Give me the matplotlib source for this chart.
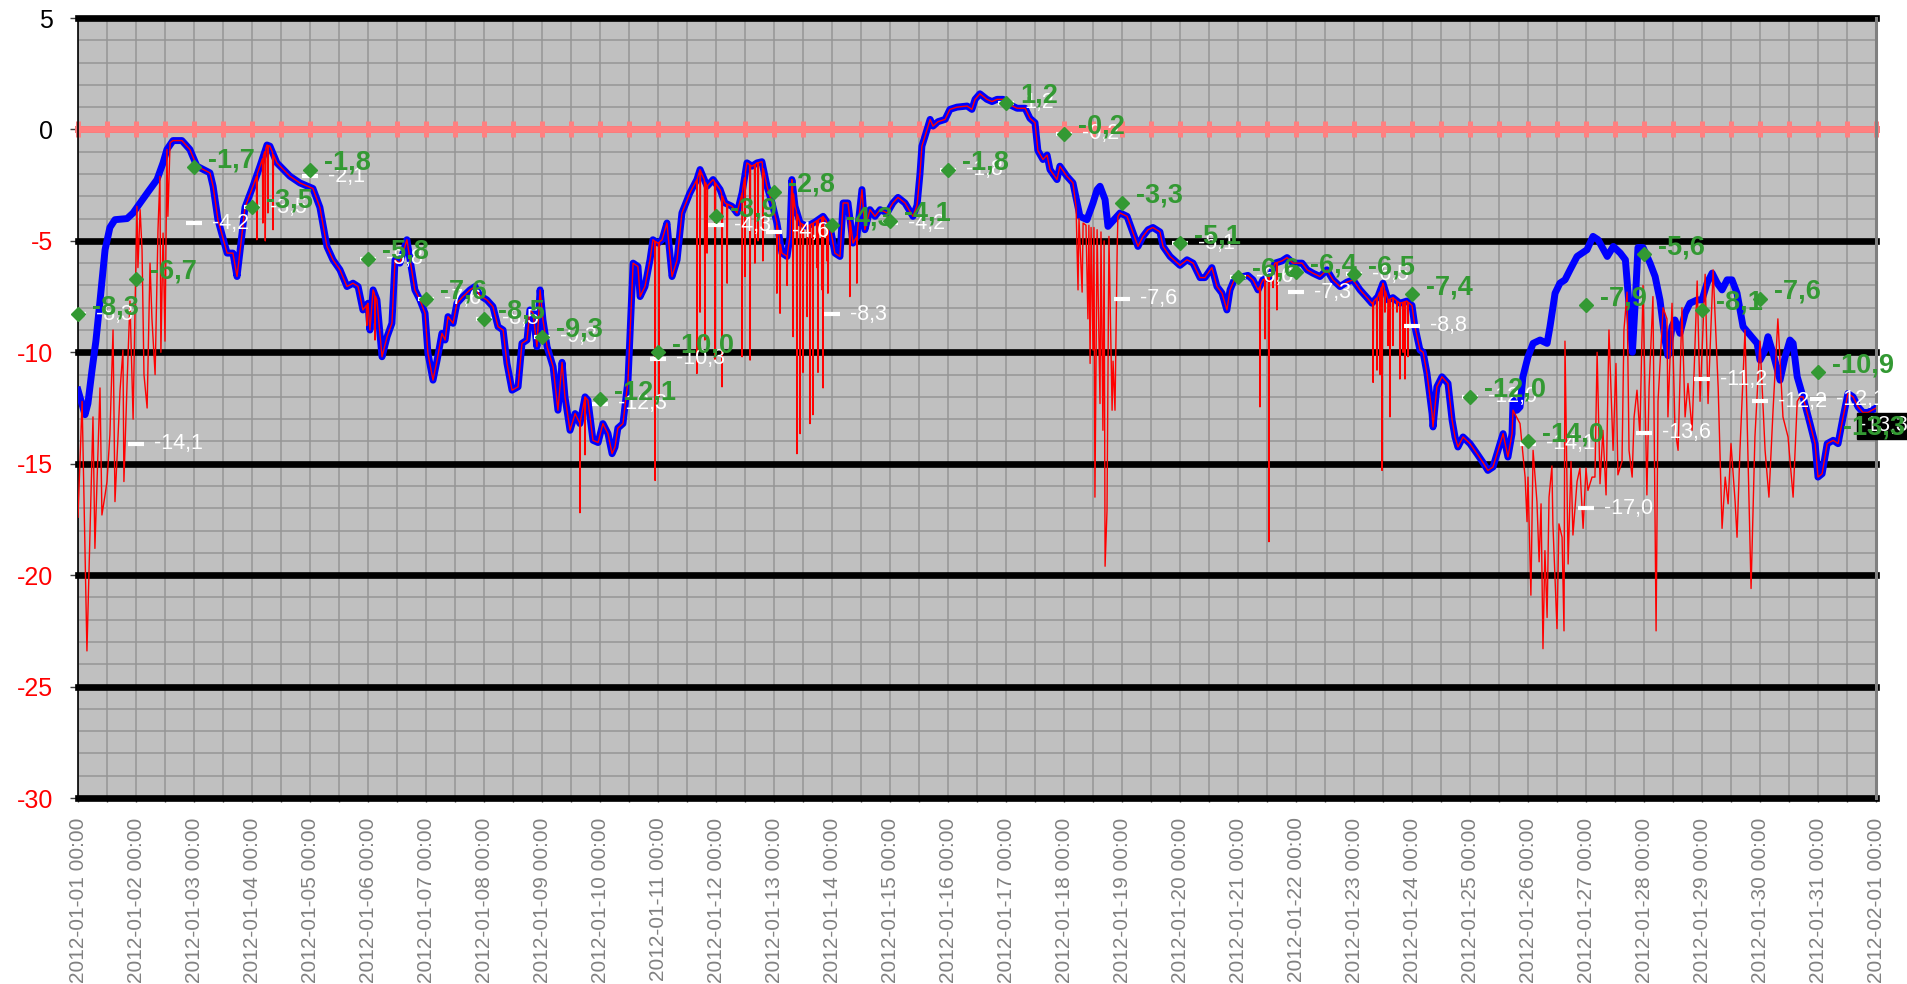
import numpy as np
import pandas as pd
import matplotlib
matplotlib.use('Agg')
import matplotlib.pyplot as plt
import matplotlib.dates as mdates
from matplotlib.ticker import MultipleLocator

plt.rcParams['font.family'] = ['Liberation Sans', 'DejaVu Sans']

START = pd.Timestamp('2012-01-01 00:00')
END = pd.Timestamp('2012-02-01 00:00')

# ---------------- data ----------------
# smoothed series (blue): hours since START, value
blue_hours = [0.0, 0.8, 2.9, 4.1, 5.8, 7.4, 9.1, 11.2, 13.2, 15.3, 20.3, 22.8, 25.7, 29.0, 32.7, 35.2,
              36.8, 39.3, 43.0, 46.3, 49.2, 54.6, 55.9, 57.9, 61.7, 64.1, 65.8, 67.0, 69.1, 72.4, 75.3,
              78.2, 79.4, 82.3, 87.7, 91.8, 97.2, 100.1, 103.0, 105.5, 108.4, 111.3, 113.8, 115.9, 117.9,
              120.0, 120.8, 122.1, 123.7, 125.8, 127.9, 129.9, 131.2, 133.2, 136.1, 137.4, 139.4, 141.5,
              143.6, 144.8, 146.9, 148.6, 150.6, 151.9, 153.1, 155.2, 156.8, 159.3, 162.2, 164.3, 166.3,
              169.2, 171.7, 173.8, 175.9, 177.5, 179.6, 182.1, 183.7, 185.8, 187.0, 188.3, 189.9, 191.2,
              192.4, 194.1, 196.6, 198.6, 200.3, 201.5, 203.6, 205.7, 207.7, 209.8, 211.0, 213.1, 215.2,
              217.2, 219.3, 221.0, 222.2, 223.4, 225.5, 227.6, 229.7, 231.7, 232.6, 234.6, 236.7, 237.9,
              240.0, 241.7, 243.7, 245.8, 247.9, 249.9, 253.2, 256.1, 257.4, 260.3, 262.8, 265.7, 267.7,
              270.6, 272.7, 274.8, 276.8, 278.9, 281.0, 283.0, 285.1, 287.2, 289.2, 291.3, 293.4, 294.6,
              295.4, 296.7, 298.8, 301.7, 305.0, 308.3, 311.2, 313.2, 315.3, 316.6, 318.6, 320.7, 322.3,
              324.4, 325.6, 327.7, 329.8, 331.9, 334.8, 337.2, 339.3, 342.2, 345.5, 347.2, 348.4, 349.2,
              350.5, 352.6, 353.8, 355.9, 358.8, 360.8, 363.7, 367.9, 369.9, 371.2, 373.2, 376.1, 378.2,
              380.3, 382.8, 385.7, 388.6, 391.9, 393.9, 396.0, 397.2, 399.3, 401.0, 402.2, 405.1, 406.3,
              409.2, 411.7, 414.6, 417.5, 420.0, 421.7, 422.9, 425.0, 426.2, 429.1, 431.2, 434.1, 436.6,
              438.6, 440.7, 442.8, 444.8, 447.7, 449.0, 451.9, 456.0, 458.9, 461.4, 464.3, 466.3, 469.2,
              471.3, 473.4, 475.4, 476.7, 478.8, 482.1, 484.1, 486.2, 488.3, 490.3, 493.2, 495.3, 498.2,
              500.3, 502.8, 506.5, 508.6, 511.0, 513.9, 516.8, 519.3, 522.2, 525.1, 527.6, 530.5, 533.4,
              535.4, 537.9, 540.0, 542.1, 544.1, 547.0, 549.9, 552.0, 553.2, 555.3, 556.6, 558.2, 560.3,
              560.7, 562.3, 564.4, 566.9, 568.6, 569.8, 571.0, 573.1, 576.0, 578.9, 581.4, 583.4, 585.5,
              587.6, 589.7, 591.7, 593.4, 593.8, 595.4, 596.7, 597.9, 600.0, 602.1, 605.0, 607.9, 609.1,
              611.2, 613.2, 615.3, 617.4, 620.3, 624.4, 626.9, 629.0, 632.8, 635.3, 638.2, 640.3, 641.9,
              643.2, 644.5, 645.5, 647.6, 650.5, 652.6, 654.6, 656.7, 657.9, 659.6, 660.8, 662.9, 665.0,
              667.0, 670.0, 672.0, 674.1, 676.2, 678.3, 680.3, 682.4, 684.4, 686.5, 689.0, 694.8, 696.0,
              698.1, 699.3, 701.4, 704.3, 706.4, 708.4, 709.7, 711.4, 713.8, 716.7, 718.8, 720.0, 721.7,
              723.8, 726.3, 728.3, 730.4, 732.4, 734.5, 736.6, 738.6, 740.7, 744.0]
blue_values = [-11.7, -12.0, -12.8, -12.3, -10.8, -9.5, -7.7, -5.4, -4.4, -4.05, -4.0, -3.75, -3.3, -2.8, -2.25, -1.5,
               -0.9, -0.5, -0.5, -0.9, -1.65, -1.95, -2.55, -4.05, -5.55, -5.55, -6.6, -5.5, -3.5, -2.55, -1.65,
               -0.7, -0.75, -1.5, -2.1, -2.4, -2.65, -3.5, -5.25, -5.85, -6.3, -7.05, -6.9, -7.05, -8.1,
               -7.8, -9.0, -7.2, -7.65, -10.2, -9.3, -8.7, -5.85, -6.0, -4.95, -5.85, -7.2, -7.65,
               -8.25, -10.05, -11.25, -10.35, -9.15, -9.45, -8.4, -8.7, -7.8, -7.5, -7.2, -7.05, -7.45,
               -7.65, -7.95, -8.85, -9.0, -10.5, -11.7, -11.55, -9.6, -9.45, -8.1, -8.25, -9.75, -7.2,
               -8.55, -9.75, -10.65, -12.6, -10.45, -12.0, -13.5, -12.75, -13.2, -12.0, -12.15, -13.95, -14.05,
               -13.2, -13.65, -14.55, -14.25, -13.4, -13.2, -11.25, -6.0, -6.15, -7.5, -7.05, -5.85, -4.95,
               -5.1, -4.95, -4.2, -6.6, -5.85, -3.75, -2.85, -2.25, -1.8, -2.55, -2.25, -2.7, -3.3,
               -3.45, -3.75, -2.85, -1.5, -1.65, -1.5, -1.45, -2.55, -3.3, -4.2, -5.55, -5.7, -4.8,
               -2.25, -3.45, -4.2, -4.35, -4.15, -3.9, -4.35, -5.55, -5.7, -3.3, -3.3, -5.1, -4.8,
               -2.7, -4.5, -3.6, -3.9, -3.6, -3.75, -3.3, -3.05, -3.3, -3.9, -3.4, -2.0, -0.75,
               -0.3, 0.45, 0.15, 0.35, 0.45, 0.9, 1.0, 1.05, 0.9, 1.35, 1.6, 1.35, 1.25,
               1.35, 1.35, 1.1, 0.95, 0.95, 0.5, 0.3, -0.95, -1.35, -1.15, -1.8, -2.25, -1.65,
               -2.1, -2.4, -3.9, -4.05, -3.3, -2.7, -2.55, -3.15, -4.35, -4.0, -3.75, -3.9, -4.65,
               -5.25, -4.8, -4.5, -4.4, -4.6, -5.25, -5.7, -6.1, -5.85, -6.0, -6.65, -6.65, -6.2,
               -7.05, -7.35, -8.1, -7.2, -6.65, -6.6, -6.55, -6.75, -7.2, -6.75, -6.6, -6.0, -5.9,
               -5.75, -6.0, -6.0, -6.3, -6.45, -6.6, -6.3, -6.75, -7.05, -6.85, -6.75, -7.2, -7.55,
               -7.8, -7.5, -6.9, -7.65, -7.55, -7.8, -7.7, -7.9, -8.85, -9.9, -10.0, -10.95, -12.75,
               -13.35, -11.55, -11.1, -11.4, -13.05, -13.8, -14.25, -13.8, -14.1, -14.55, -14.95, -15.3, -15.15,
               -14.4, -13.65, -14.7, -13.65, -12.15, -12.6, -12.45, -11.1, -10.2, -9.6, -9.45, -9.6, -8.85,
               -7.35, -6.9, -6.75, -6.3, -5.7, -5.4, -4.8, -4.95, -5.7, -5.25, -5.55, -5.85, -8.0,
               -10.0, -7.5, -5.3, -5.3, -6.0, -6.6, -7.65, -9.45, -10.15, -8.85, -8.55, -9.15, -8.25,
               -7.8, -7.65, -7.65, -6.9, -6.45, -6.9, -7.2, -6.75, -6.75, -7.35, -8.85, -9.6, -10.35,
               -9.9, -9.3, -10.05, -11.25, -10.2, -9.45, -9.6, -11.1, -12.0, -13.2, -14.1, -15.6, -15.45,
               -14.1, -13.95, -14.1, -12.9, -11.85, -12.0, -12.45, -12.7, -12.7, -12.5]

# raw series (red): noisy stretches where it leaves the blue curve
red_seg1_hours = [0.0, 1.7, 3.7, 6.2, 7.0, 9.1, 9.9, 11.2, 12.0, 13.2, 14.5, 15.3, 16.6, 17.4, 18.6, 19.0,
                  20.3, 21.5, 22.8, 23.6, 24.4, 24.8, 25.7, 26.5, 27.3, 28.6, 29.8, 30.6, 31.9, 33.1, 33.9,
                  34.3, 35.2, 36.0, 36.8, 37.2, 38.1]
red_seg1_values = [-17.4, -12.2, -23.4, -12.9, -18.8, -11.6, -17.3, -16.4, -15.8, -13.7, -9.0, -16.7, -13.7,
                   -11.7, -9.9, -15.8, -11.4, -7.7, -13.0, -8.0, -3.45, -6.2, -3.6, -5.4, -11.0, -12.5, -6.0,
                   -8.5, -11.0, -4.5, -2.1, -10.0, -4.65, -9.5, -0.9, -3.9, -0.6]
red_seg2_hours = [413.0, 413.8, 414.2, 415.5, 415.9, 417.1, 417.9, 418.3, 418.8, 419.2, 420.0, 420.4, 420.8,
                  421.7, 422.9, 423.3, 424.1, 424.6, 425.0, 425.8, 426.6, 427.9, 428.3, 429.1, 430.0, 430.3]
red_seg2_values = [-3.5, -7.2, -4.0, -7.3, -4.2, -4.3, -8.5, -4.3, -10.5, -4.4, -9.9, -4.4, -16.5,
                   -4.5, -12.3, -4.6, -13.5, -5.0, -19.6, -17.1, -4.8, -12.6, -10.4, -12.6, -5.4, -3.9]
red_seg3_hours = [593.8, 596.7, 598.8, 599.6, 600.0, 601.2, 602.1, 603.7, 604.6, 605.4, 606.2, 607.0, 607.9,
                  608.7, 609.9, 610.3, 612.0, 612.8, 614.1, 614.9, 615.3, 616.6, 617.8, 618.6, 620.3, 621.5,
                  622.8, 624.0, 624.8, 626.5, 627.7, 628.6, 629.8, 631.0, 632.3, 633.5, 635.2, 636.4, 637.2,
                  638.9, 639.7, 641.0, 641.8, 643.1, 643.9, 645.1, 646.3, 647.6, 649.2, 650.1, 651.7, 653.0,
                  653.8, 655.9, 657.5, 657.9, 659.6, 660.8, 662.1, 663.7, 665.0, 666.2, 667.9, 670.0, 671.2,
                  673.3, 674.5, 676.6, 678.7, 680.3, 681.6, 682.8, 684.0, 685.7, 686.5, 687.7, 689.8, 692.3,
                  693.9, 696.0, 698.1, 699.7, 701.4, 703.4, 705.5, 707.6, 709.7, 711.4, 712.6]
red_seg3_values = [-12.6, -13.2, -15.6, -17.6, -15.6, -20.9, -14.4, -16.7, -19.4, -16.8, -23.3, -18.9, -21.9,
                   -16.5, -15.1, -17.7, -22.4, -17.7, -18.3, -22.5, -9.5, -19.5, -14.9, -18.2, -15.8, -15.2,
                   -17.9, -15.2, -16.2, -15.6, -15.6, -10.0, -15.9, -13.5, -16.4, -9.0, -14.4, -10.5, -15.5,
                   -14.9, -9.0, -7.3, -14.4, -15.6, -12.9, -11.7, -13.7, -7.0, -16.4, -11.6, -7.5, -22.5,
                   -12.2, -8.0, -8.5, -12.9, -7.8, -13.4, -14.4, -8.0, -12.9, -11.4, -13.5, -6.8, -12.2,
                   -6.5, -12.3, -6.3, -11.6, -17.9, -15.6, -16.8, -14.1, -16.7, -18.3, -14.4, -9.0, -20.6,
                   -13.8, -9.5, -14.4, -16.5, -12.6, -8.5, -12.9, -13.8, -16.5, -12.2, -12.0]
# single downward needles of the raw series
spike_hours = [74.0, 76.5, 77.5, 78.6, 80.7, 119.5, 122.9, 207.7, 209.8, 238.8, 240.4,
               256.1, 257.4, 259.4, 260.3, 263.6, 266.5, 268.6, 274.8, 276.0, 278.1, 280.1, 281.4, 283.4,
               289.2, 290.5, 293.4, 295.9, 297.5, 298.8, 300.0, 301.7, 302.9, 304.1, 305.8, 306.2, 307.9,
               308.3, 309.9, 310.3, 319.4, 322.3,
               489.1, 491.2, 492.8, 494.5, 496.1,
               535.9, 537.5, 538.8, 539.6, 540.8, 542.1, 542.9, 544.1, 545.8, 547.0, 548.3, 549.1, 550.3]
spike_values = [-4.95, -4.2, -5.0, -3.75, -4.5, -8.8, -9.45, -17.2, -14.6, -15.75, -12.0,
                -10.95, -8.2, -9.45, -5.55, -10.35, -11.55, -6.9, -10.2, -6.6, -10.35, -6.0, -5.0, -5.9,
                -7.35, -8.25, -7.0, -9.3, -14.55, -13.65, -10.9, -8.4, -13.2, -12.8, -6.2, -10.9, -7.2,
                -11.6, -5.9, -7.35, -7.5, -6.9,
                -12.45, -9.4, -18.5, -7.1, -8.1,
                -11.35, -10.8, -11.0, -15.3, -8.2, -9.7, -12.9, -9.7, -8.2, -11.2, -10.0, -11.2, -10.2]

# daily values (one per day at 00:00, Jan 1 .. Feb 1)
green_values = [-8.3, -6.7, -1.7, -3.5, -1.8, -5.8, -7.6, -8.5, -9.3, -12.1, -10.0, -3.9, -2.8, -4.3, -4.1,
                -1.8, 1.2, -0.2, -3.3, -5.1, -6.6, -6.4, -6.5, -7.4, -12.0, -14.0, -7.9, -5.6, -8.1, -7.6,
                -10.9, -13.3]
white_values = [-8.3, -14.1, -4.2, -3.5, -2.1, -5.8, -7.6, -8.5, -9.3, -12.3, -10.3, -4.3, -4.6, -8.3, -4.2,
                -1.8, 1.2, -0.2, -7.6, -5.1, -6.6, -7.3, -6.5, -8.8, -12.0, -14.1, -17.0, -13.6, -11.2, -12.2,
                -12.1, -13.3]
reference_level = 0.0
y_ticks = [5, 0, -5, -10, -15, -20, -25, -30]


# ---------------- build series ----------------
def to_time(hours):
    return START + pd.to_timedelta(np.asarray(hours, dtype=float), unit='h')


bh = np.array(blue_hours)
bv = np.array(blue_values)

segments = [(red_seg1_hours, red_seg1_values), (red_seg2_hours, red_seg2_values),
            (red_seg3_hours, red_seg3_values)]
keep = np.ones(len(bh), dtype=bool)
for sh, sv in segments:
    keep &= ~((bh >= sh[0] - 0.01) & (bh <= sh[-1] + 0.01))
rh = list(bh[keep])
rv = list(bv[keep])
for sh, sv in segments:
    rh += list(sh)
    rv += list(sv)
for h, v in zip(spike_hours, spike_values):
    for dh in (-0.2, 0.2):
        rh.append(h + dh)
        rv.append(float(np.interp(h + dh, bh, bv)))
    rh.append(h)
    rv.append(v)
order = np.argsort(rh, kind='stable')
rh = np.array(rh)[order]
rv = np.array(rv)[order]

day_times = pd.date_range(START, END, freq='D')
half_day_times = pd.date_range(START, END, freq='12h')

# ---------------- figure ----------------
fig = plt.figure(figsize=(19.08, 9.84), dpi=100)
ax = fig.add_axes([78 / 1908, 1 - 798 / 984, (1876 - 78) / 1908, (798 - 18) / 984])
ax.set_facecolor('#c0c0c0')

ax.set_xlim(START, END)
ax.set_ylim(-30, 5)

ax.xaxis.set_major_locator(mdates.DayLocator())
ax.xaxis.set_major_formatter(mdates.DateFormatter('%Y-%m-%d %H:%M'))
ax.xaxis.set_minor_locator(mdates.HourLocator(byhour=[12]))
ax.yaxis.set_major_locator(MultipleLocator(5))
ax.yaxis.set_minor_locator(MultipleLocator(1))

ax.grid(which='both', axis='x', color='#959595', lw=1.1, zorder=0.5)
ax.grid(which='minor', axis='y', color='#959595', lw=1.1, zorder=0.5)
ax.set_axisbelow(True)
for lvl in y_ticks:
    ax.axhline(lvl, color='black', lw=4.8, zorder=1, clip_on=False)

ax.tick_params(axis='y', which='major', length=6, width=1, color='#404040', labelsize=18, pad=12)
ax.tick_params(axis='y', which='minor', length=0)
ax.tick_params(axis='x', which='major', length=3, width=1, color='#404040', labelsize=15,
               labelcolor='#808080', pad=11, labelrotation=90)
ax.tick_params(axis='x', which='minor', length=3, width=1, color='#404040')
for lbl in ax.get_xticklabels():
    lbl.set_rotation(90)
ax.set_yticks(y_ticks)
ax.set_yticklabels([str(t) for t in y_ticks])
for lbl, t in zip(ax.get_yticklabels(), y_ticks):
    lbl.set_color('red' if t < 0 else 'black')

ax.spines['top'].set_visible(False)
ax.spines['bottom'].set_visible(False)
ax.spines['left'].set_color('black')
ax.spines['left'].set_linewidth(1.2)
ax.spines['right'].set_color('#808080')
ax.spines['right'].set_linewidth(2.2)

# reference line at 0
ax.plot(half_day_times, [reference_level] * len(half_day_times), color='#ff8080', lw=5,
        marker='|', ms=12, mew=3.6, zorder=2, clip_on=False)

# series
ax.plot(to_time(bh), bv, color='#0000ff', lw=5.0, zorder=3, solid_joinstyle='round')
ax.plot(to_time(rh), rv, color='#ff0000', lw=1.0, zorder=4)

# daily markers + labels
ax.plot(day_times, white_values, ls='none', marker='_', ms=11.5, mew=3.0, color='white',
        zorder=5, clip_on=False)
ax.plot(day_times, green_values, ls='none', marker='D', ms=7.5, color='#339933', zorder=6,
        clip_on=False)
for t, v in zip(day_times[:-1], white_values[:-1]):
    ax.annotate(f'{v:.1f}'.replace('.', ','), xy=(t, v), xytext=(13, 0),
                textcoords='offset points', ha='left', va='center', color='white', fontsize=15.5,
                zorder=5, annotation_clip=False)
for t, v in zip(day_times[:-1], green_values[:-1]):
    ax.annotate(f'{v:.1f}'.replace('.', ','), xy=(t, v), xytext=(10, 0),
                textcoords='offset points', ha='left', va='baseline', color='#339933',
                fontsize=19.5, fontweight='bold', zorder=6, annotation_clip=False)

# last-value box on the right edge
last_t = day_times[-1]
ax.annotate(f'{white_values[-1]:.1f}'.replace('.', ','), xy=(last_t, white_values[-1]),
            xytext=(-12, 0), textcoords='offset points', ha='left', va='center', color='white',
            fontsize=15.5, zorder=7, annotation_clip=False,
            bbox=dict(boxstyle='square,pad=0.12', fc='black', ec='black'))
ax.annotate(f'{green_values[-1]:.1f}'.replace('.', ','), xy=(last_t, green_values[-1]),
            xytext=(-24, -1), textcoords='offset points', ha='left', va='center', color='#339933',
            fontsize=19.5, fontweight='bold', zorder=8, annotation_clip=False)

fig.savefig('out.png', dpi=100)
